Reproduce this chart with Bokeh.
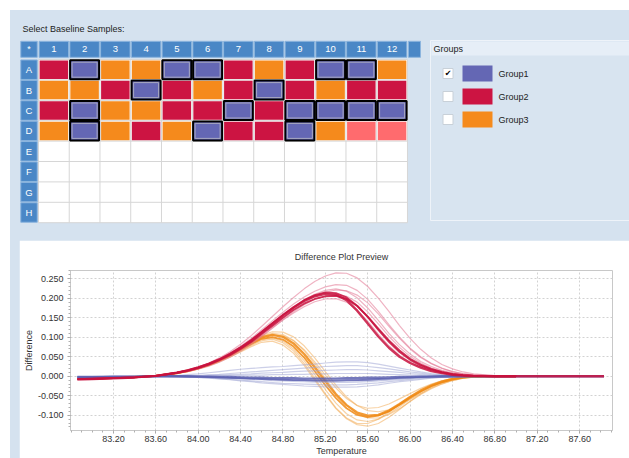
from bokeh.plotting import figure
from bokeh.models import Range1d, FixedTicker, PrintfTickFormatter, Spacer
from bokeh.layouts import column, row
from bokeh.embed import file_html
from bokeh.resources import INLINE
from bokeh.core.properties import value

# ---------------- data ----------------
col_labels = ["1", "2", "3", "4", "5", "6", "7", "8", "9", "10", "11", "12"]
row_labels = ["A", "B", "C", "D", "E", "F", "G", "H"]
# well codes: 1 = Group1, 2 = Group2, 3 = Group3, 4 = unassigned (light red)
plate_A = [2, 1, 3, 3, 1, 1, 2, 3, 2, 1, 1, 3]
plate_B = [3, 3, 2, 1, 2, 3, 2, 1, 2, 3, 2, 2]
plate_C = [2, 1, 3, 3, 2, 2, 1, 2, 1, 1, 1, 1]
plate_D = [3, 1, 3, 2, 3, 1, 2, 2, 1, 3, 4, 4]
baseline_code = 1

group_names = ["Group1", "Group2", "Group3"]
group_colors = ["#6467b4", "#cc1442", "#f58a1c"]
group_checked = [True, False, False]
extra_color = "#ff6b6e"

temperature = [82.86, 83.0, 83.2, 83.4, 83.6,
               83.8, 83.9, 84.0, 84.1, 84.2, 84.3, 84.4, 84.5, 84.6, 84.7,
               84.8, 84.9, 85.0, 85.1, 85.2, 85.3, 85.4, 85.5, 85.6, 85.7,
               85.8, 85.9, 86.0, 86.1, 86.2, 86.3, 86.4, 86.5, 86.6,
               86.8, 87.0, 87.83]

red_curves = [
    [-0.008, -0.007, -0.005, -0.003, 0.001,
     0.009, 0.015, 0.023, 0.032, 0.043, 0.057, 0.073, 0.091, 0.112, 0.134,
     0.156, 0.176, 0.193, 0.205, 0.211, 0.209, 0.195, 0.168, 0.135, 0.102,
     0.073, 0.050, 0.034, 0.022, 0.013, 0.008, 0.004, 0.002, 0.001,
     0.000, 0.000, 0.000],
    [-0.008, -0.007, -0.005, -0.003, 0.001,
     0.009, 0.014, 0.021, 0.030, 0.041, 0.054, 0.070, 0.088, 0.108, 0.129,
     0.150, 0.170, 0.186, 0.198, 0.205, 0.206, 0.198, 0.180, 0.153, 0.122,
     0.092, 0.066, 0.045, 0.030, 0.019, 0.011, 0.006, 0.003, 0.001,
     0.000, 0.000],
    [-0.007, -0.006, -0.005, -0.003, 0.001,
     0.009, 0.015, 0.022, 0.032, 0.043, 0.057, 0.074, 0.093, 0.114, 0.136,
     0.157, 0.176, 0.195, 0.208, 0.215, 0.213, 0.202, 0.181, 0.152, 0.119,
     0.088, 0.062, 0.042, 0.027, 0.017, 0.010, 0.005, 0.002, 0.001,
     0.000, 0.000],
    [-0.008, -0.007, -0.005, -0.003, 0.001,
     0.010, 0.016, 0.024, 0.034, 0.047, 0.063, 0.082, 0.104, 0.128, 0.153,
     0.178, 0.202, 0.224, 0.243, 0.257, 0.265, 0.264, 0.252, 0.230, 0.200,
     0.166, 0.130, 0.097, 0.069, 0.047, 0.030, 0.019, 0.011, 0.006,
     0.002, 0.000],
    [-0.008, -0.007, -0.005, -0.003, 0.001,
     0.010, 0.015, 0.023, 0.033, 0.045, 0.060, 0.077, 0.097, 0.119, 0.142,
     0.164, 0.185, 0.203, 0.218, 0.229, 0.235, 0.233, 0.220, 0.197, 0.166,
     0.132, 0.100, 0.072, 0.050, 0.033, 0.021, 0.012, 0.007, 0.003,
     0.001, 0.000],
    [-0.008, -0.007, -0.005, -0.003, 0.001,
     0.010, 0.015, 0.022, 0.032, 0.044, 0.058, 0.075, 0.094, 0.115, 0.137,
     0.159, 0.179, 0.196, 0.210, 0.220, 0.224, 0.218, 0.201, 0.175, 0.143,
     0.110, 0.081, 0.057, 0.038, 0.025, 0.015, 0.009, 0.005, 0.002,
     0.000, 0.000],
    [-0.007, -0.006, -0.005, -0.003, 0.001,
     0.009, 0.013, 0.020, 0.029, 0.040, 0.052, 0.068, 0.085, 0.104, 0.124,
     0.144, 0.162, 0.178, 0.191, 0.198, 0.199, 0.190, 0.170, 0.141, 0.108,
     0.078, 0.054, 0.036, 0.023, 0.014, 0.008, 0.004, 0.002, 0.001,
     0.000, 0.000],
    [-0.008, -0.007, -0.005, -0.003, 0.001,
     0.009, 0.014, 0.021, 0.030, 0.041, 0.055, 0.071, 0.090, 0.110, 0.131,
     0.152, 0.172, 0.189, 0.204, 0.215, 0.221, 0.219, 0.208, 0.188, 0.160,
     0.128, 0.097, 0.070, 0.048, 0.032, 0.020, 0.012, 0.006, 0.003,
     0.001, 0.000],
    [-0.008, -0.007, -0.005, -0.003, 0.001,
     0.008, 0.012, 0.018, 0.026, 0.036, 0.049, 0.064, 0.082, 0.102, 0.123,
     0.145, 0.165, 0.183, 0.197, 0.206, 0.210, 0.205, 0.190, 0.165, 0.134,
     0.102, 0.074, 0.051, 0.034, 0.021, 0.013, 0.007, 0.004, 0.002,
     0.000, 0.000],
]

orange_curves = [
    [-0.006, -0.005, -0.004, -0.002, 0.001,
     0.008, 0.014, 0.021, 0.030, 0.041, 0.055, 0.070, 0.086, 0.100, 0.106,
     0.101, 0.084, 0.057, 0.023, -0.013, -0.047, -0.074, -0.093, -0.101, -0.099,
     -0.088, -0.071, -0.053, -0.037, -0.024, -0.014, -0.007, -0.003, -0.001,
     0.000, 0.000],
    [-0.006, -0.005, -0.004, -0.002, 0.001,
     0.008, 0.013, 0.020, 0.029, 0.040, 0.053, 0.068, 0.083, 0.096, 0.100,
     0.094, 0.076, 0.048, 0.013, -0.023, -0.056, -0.082, -0.099, -0.105, -0.101,
     -0.090, -0.073, -0.055, -0.039, -0.025, -0.015, -0.008, -0.003, -0.001,
     0.000, 0.000],
    [-0.006, -0.005, -0.004, -0.002, 0.001,
     0.009, 0.014, 0.021, 0.031, 0.043, 0.057, 0.073, 0.090, 0.105, 0.114,
     0.113, 0.101, 0.078, 0.047, 0.012, -0.023, -0.053, -0.075, -0.088, -0.091,
     -0.086, -0.074, -0.059, -0.044, -0.030, -0.019, -0.011, -0.005, -0.002,
     0.000, 0.000],
    [-0.006, -0.005, -0.004, -0.002, 0.001,
     0.008, 0.012, 0.019, 0.027, 0.037, 0.049, 0.062, 0.076, 0.087, 0.090,
     0.080, 0.059, 0.028, -0.010, -0.048, -0.083, -0.109, -0.124, -0.128, -0.121,
     -0.105, -0.085, -0.064, -0.045, -0.029, -0.017, -0.009, -0.004, -0.001,
     0.000, 0.000],
    [-0.006, -0.005, -0.004, -0.002, 0.001,
     0.008, 0.013, 0.020, 0.028, 0.039, 0.052, 0.066, 0.081, 0.094, 0.098,
     0.090, 0.070, 0.040, 0.004, -0.034, -0.069, -0.096, -0.112, -0.116, -0.110,
     -0.096, -0.078, -0.059, -0.041, -0.027, -0.016, -0.008, -0.003, -0.001,
     0.000, 0.000],
    [-0.006, -0.005, -0.004, -0.002, 0.001,
     0.008, 0.013, 0.020, 0.029, 0.041, 0.054, 0.069, 0.085, 0.099, 0.106,
     0.104, 0.091, 0.068, 0.037, 0.003, -0.030, -0.057, -0.075, -0.082, -0.080,
     -0.071, -0.058, -0.044, -0.031, -0.020, -0.012, -0.006, -0.002, -0.001,
     0.000, 0.000],
    [-0.006, -0.005, -0.004, -0.002, 0.001,
     0.009, 0.014, 0.021, 0.030, 0.042, 0.056, 0.071, 0.088, 0.103, 0.110,
     0.107, 0.092, 0.066, 0.032, -0.006, -0.043, -0.074, -0.096, -0.107, -0.107,
     -0.098, -0.083, -0.065, -0.047, -0.032, -0.020, -0.011, -0.005, -0.002,
     0.000, 0.000],
    [-0.006, -0.005, -0.004, -0.002, 0.001,
     0.008, 0.012, 0.019, 0.027, 0.038, 0.050, 0.064, 0.079, 0.091, 0.095,
     0.086, 0.065, 0.033, -0.005, -0.045, -0.081, -0.107, -0.121, -0.121, -0.110,
     -0.092, -0.071, -0.051, -0.034, -0.021, -0.012, -0.006, -0.002, -0.001,
     0.000, 0.000],
]

blue_curves = [
    [-0.002, -0.002, -0.001, -0.001, 0.000,
     0.000, 0.000, -0.001, -0.001, -0.002, -0.002, -0.003, -0.004, -0.004, -0.005,
     -0.005, -0.005, -0.006, -0.006, -0.006, -0.006, -0.005, -0.005, -0.004, -0.004,
     -0.003, -0.002, -0.002, -0.001, -0.001, 0.000, 0.000, 0.000, 0.000,
     0.000, 0.000, 0.000],
    [-0.002, -0.002, -0.001, -0.001, 0.000,
     0.000, -0.001, -0.001, -0.002, -0.003, -0.004, -0.005, -0.006, -0.007, -0.008,
     -0.009, -0.010, -0.010, -0.011, -0.011, -0.011, -0.010, -0.010, -0.009, -0.007,
     -0.006, -0.004, -0.003, -0.002, -0.001, -0.001, 0.000, 0.000, 0.000,
     0.000, 0.000],
    [-0.002, -0.002, -0.001, -0.001, 0.000,
     0.002, 0.004, 0.006, 0.009, 0.012, 0.015, 0.018, 0.020, 0.022, 0.024,
     0.025, 0.027, 0.029, 0.031, 0.034, 0.036, 0.037, 0.037, 0.035, 0.031,
     0.026, 0.021, 0.016, 0.011, 0.007, 0.004, 0.002, 0.001, 0.000,
     0.000, 0.000],
    [-0.002, -0.002, -0.001, -0.001, 0.000,
     0.001, 0.001, 0.002, 0.004, 0.005, 0.007, 0.009, 0.011, 0.013, 0.015,
     0.017, 0.019, 0.021, 0.023, 0.025, 0.026, 0.027, 0.027, 0.025, 0.022,
     0.019, 0.015, 0.011, 0.008, 0.005, 0.003, 0.001, 0.001, 0.000,
     0.000, 0.000],
    [-0.002, -0.002, -0.001, -0.001, 0.000,
     0.000, 0.001, 0.001, 0.002, 0.003, 0.004, 0.005, 0.006, 0.008, 0.009,
     0.010, 0.012, 0.013, 0.014, 0.015, 0.016, 0.017, 0.017, 0.016, 0.014,
     0.012, 0.010, 0.007, 0.005, 0.003, 0.002, 0.001, 0.000, 0.000,
     0.000, 0.000],
    [-0.002, -0.002, -0.001, -0.001, 0.000,
     0.000, 0.000, 0.000, 0.001, 0.001, 0.002, 0.002, 0.003, 0.003, 0.004,
     0.004, 0.005, 0.005, 0.006, 0.006, 0.007, 0.007, 0.007, 0.007, 0.006,
     0.005, 0.004, 0.003, 0.002, 0.001, 0.001, 0.000, 0.000, 0.000,
     0.000, 0.000],
    [-0.002, -0.002, -0.001, -0.001, 0.000,
     -0.001, -0.001, -0.002, -0.003, -0.004, -0.005, -0.007, -0.008, -0.009, -0.011,
     -0.012, -0.013, -0.014, -0.015, -0.016, -0.016, -0.016, -0.015, -0.014, -0.012,
     -0.010, -0.008, -0.006, -0.004, -0.003, -0.002, -0.001, 0.000, 0.000,
     0.000, 0.000],
    [-0.002, -0.002, -0.001, -0.001, 0.000,
     -0.001, -0.002, -0.003, -0.004, -0.006, -0.008, -0.010, -0.012, -0.014, -0.016,
     -0.018, -0.019, -0.020, -0.021, -0.022, -0.022, -0.022, -0.021, -0.019, -0.017,
     -0.014, -0.011, -0.008, -0.006, -0.004, -0.002, -0.001, -0.001, 0.000,
     0.000, 0.000],
    [-0.002, -0.002, -0.001, -0.001, 0.000,
     -0.001, -0.002, -0.003, -0.005, -0.007, -0.009, -0.012, -0.014, -0.017, -0.019,
     -0.021, -0.023, -0.025, -0.026, -0.027, -0.028, -0.028, -0.027, -0.025, -0.022,
     -0.018, -0.014, -0.011, -0.008, -0.005, -0.003, -0.002, -0.001, 0.000,
     0.000, 0.000],
    [-0.002, -0.002, -0.001, -0.001, 0.000,
     0.000, -0.001, -0.001, -0.002, -0.003, -0.004, -0.005, -0.006, -0.007, -0.008,
     -0.009, -0.010, -0.011, -0.012, -0.013, -0.013, -0.013, -0.012, -0.011, -0.010,
     -0.008, -0.006, -0.005, -0.003, -0.002, -0.001, -0.001, 0.000, 0.000,
     0.000, 0.000],
]

x_ticks = [83.2, 83.6, 84.0, 84.4, 84.8, 85.2, 85.6, 86.0, 86.4, 86.8, 87.2, 87.6]
y_ticks = [-0.1, -0.05, 0.0, 0.05, 0.1, 0.15, 0.2, 0.25]

# ---------------- style ----------------
FONT = "Liberation Sans"
BG = "#d5e2ef"
HEAD = "#4a87c6"
CW = 30.75   # px per plate column
RH = 20.4    # px per plate row


def XU(px):
    return (px - 22.6) / CW


def YU(py):
    return (py - 48.8) / RH


# ---------------- top panel: plate + groups ----------------
top = figure(width=619, height=216, x_range=Range1d(XU(10), XU(629)),
             y_range=Range1d(YU(226), YU(10)), output_backend="svg",
             toolbar_location=None, x_axis_location=None, y_axis_location=None,
             min_border=0)
top.grid.visible = False
top.outline_line_color = None
top.background_fill_color = BG
top.border_fill_color = BG

top.text(x=[XU(22)], y=[YU(28)], text=["Select Baseline Samples:"],
         text_font=value(FONT), text_font_size="9px", text_color="#222222",
         text_align="left", text_baseline="middle")

ncol = len(col_labels)
nrow = len(row_labels)
top.rect(x=[(ncol + 1) / 2], y=[(nrow + 1) / 2], width=ncol, height=nrow,
         fill_color="white", line_color=None)
top.segment(x0=[c + 0.5 for c in range(ncol + 1)], y0=[0.5] * (ncol + 1),
            x1=[c + 0.5 for c in range(ncol + 1)], y1=[nrow + 0.5] * (ncol + 1),
            line_color="#d6d6d6", line_width=1)
top.segment(x0=[0.5] * (nrow + 1), y0=[r + 0.5 for r in range(nrow + 1)],
            x1=[ncol + 0.5] * (nrow + 1), y1=[r + 0.5 for r in range(nrow + 1)],
            line_color="#d6d6d6", line_width=1)

cols = list(range(1, ncol + 1))
rows = list(range(1, nrow + 1))
hx = XU(28.5)
top.rect(x=cols, y=[0] * ncol, width=29.5 / CW, height=16 / RH,
         fill_color=HEAD, line_color="#8cb5de")
top.rect(x=[hx] * nrow, y=rows, width=16.5 / CW, height=19.5 / RH,
         fill_color=HEAD, line_color="#8cb5de")
top.rect(x=[hx, XU(414)], y=[0, 0], width=[16.5 / CW, 12 / CW], height=16 / RH,
         fill_color=HEAD, line_color="#8cb5de")
top.text(x=cols, y=[0] * ncol, text=col_labels, text_font=value(FONT),
         text_font_size="9.5px", text_color="white", text_align="center",
         text_baseline="middle")
top.text(x=[hx] * nrow, y=rows, text=row_labels, text_font=value(FONT),
         text_font_size="9.5px", text_color="white", text_align="center",
         text_baseline="middle")
top.text(x=[hx], y=[0], text=["*"], text_font=value(FONT),
         text_font_size="9px", text_color="white", text_align="center",
         text_baseline="middle")

code_color = {1: group_colors[0], 2: group_colors[1], 3: group_colors[2], 4: extra_color}
wx, wy, wc, sx, sy = [], [], [], [], []
for r, prow in enumerate([plate_A, plate_B, plate_C, plate_D], start=1):
    for c, code in enumerate(prow, start=1):
        wx.append(c)
        wy.append(r)
        wc.append(code_color[code])
        if code == baseline_code:
            sx.append(c)
            sy.append(r)
top.rect(x=wx, y=wy, width=28.5 / CW, height=18.5 / RH, fill_color=wc, line_color=None)
top.rect(x=sx, y=sy, width=29 / CW, height=19 / RH, fill_color=None,
         line_color="black", line_width=2)
top.rect(x=sx, y=sy, width=25 / CW, height=15 / RH, fill_color=None,
         line_color="#a8a8c0", line_width=1)

top.quad(left=[XU(430)], right=[XU(640)], top=[YU(40)], bottom=[YU(220)],
         fill_color="#d8e4f0", line_color="#eef3f9", line_width=1)
top.quad(left=[XU(431)], right=[XU(640)], top=[YU(41)], bottom=[YU(55)],
         fill_color="#e6eef7", line_color=None)
top.text(x=[XU(433)], y=[YU(48)], text=["Groups"], text_font=value(FONT),
         text_font_size="9px", text_color="#222222", text_align="left",
         text_baseline="middle")
gy = [YU(73 + 23 * i) for i in range(len(group_names))]
top.rect(x=[XU(447.5)] * len(group_names), y=gy, width=10 / CW, height=10 / RH,
         fill_color="white", line_color="#c8d0d8")
top.rect(x=[XU(477)] * len(group_names), y=gy, width=30 / CW, height=16 / RH,
         fill_color=group_colors, line_color=None)
top.text(x=[XU(498)] * len(group_names), y=gy, text=group_names,
         text_font=value(FONT), text_font_size="9px", text_color="#222222",
         text_align="left", text_baseline="middle")
chk = [g for g, ch in zip(gy, group_checked) if ch]
top.text(x=[XU(447.5)] * len(chk), y=chk, text=["\u2714"] * len(chk),
         text_font=value("DejaVu Sans"), text_font_size="8px", text_color="black",
         text_align="center", text_baseline="middle")

# ---------------- bottom panel: difference plot ----------------
p = figure(width=610, height=218, x_range=Range1d(82.795, 87.91),
           y_range=Range1d(-0.139, 0.271), output_backend="svg",
           toolbar_location=None, min_border_left=51, min_border_right=17,
           min_border_top=30, min_border_bottom=28)
p.title.text = "Difference Plot Preview"
p.title.align = "center"
p.title.text_font = FONT
p.title.text_font_size = "9px"
p.title.text_font_style = "normal"
p.title.text_color = "#333333"
p.title.standoff = 18
p.border_fill_color = "white"
p.background_fill_color = "white"
p.outline_line_color = "#c8c8c8"

p.xaxis.ticker = FixedTicker(ticks=x_ticks,
                             minor_ticks=[round(82.8 + 0.1 * i, 2) for i in range(52)])
p.yaxis.ticker = FixedTicker(ticks=y_ticks,
                             minor_ticks=[round(-0.13 + 0.01 * i, 3) for i in range(41)])
p.xaxis.formatter = PrintfTickFormatter(format="%.2f")
p.yaxis.formatter = PrintfTickFormatter(format="%.3f")
p.xaxis.axis_label = "Temperature"
p.yaxis.axis_label = "Difference"
for ax in (p.xaxis, p.yaxis):
    ax.axis_label_text_font = FONT
    ax.axis_label_text_font_size = "9px"
    ax.axis_label_text_font_style = "normal"
    ax.axis_label_text_color = "#333333"
    ax.axis_label_standoff = 1
    ax.major_label_text_font = FONT
    ax.major_label_text_font_size = "9px"
    ax.major_label_text_color = "#333333"
    ax.major_label_standoff = 3
    ax.axis_line_color = "#c8c8c8"
    ax.major_tick_line_color = "#a0a0a0"
    ax.minor_tick_line_color = "#b0b0b0"
    ax.major_tick_in = 0
    ax.major_tick_out = 3
    ax.minor_tick_in = 0
    ax.minor_tick_out = 2
p.yaxis.major_label_standoff = 4
p.xaxis.major_label_standoff = 2
p.xgrid.ticker = x_ticks
p.ygrid.ticker = y_ticks
p.grid.grid_line_color = "#d2d2d2"
p.grid.grid_line_dash = "2 2"


def draw(curves, main_color, light_color, n_main):
    for vals in curves[n_main:]:
        p.line(temperature[:len(vals)], vals, line_color=light_color,
               line_width=1.2, line_alpha=0.55, line_join="round")
    for k, vals in enumerate(curves[:n_main]):
        p.line(temperature[:len(vals)], vals, line_color=main_color,
               line_width=2.4 if k == 0 else 1.8, line_alpha=0.85,
               line_join="round")


draw(orange_curves, "#f08a14", "#f3ad5a", 2)
draw(blue_curves, "#5d61b2", "#a3a8d6", 2)
draw(red_curves, "#c8123e", "#e27592", 3)

inner = column(top, Spacer(width=619, height=14),
               row(Spacer(width=9, height=218), p),
               styles={"background-color": BG})
layout = column(Spacer(width=629, height=10),
                row(Spacer(width=10, height=448), inner))
open("out.html", "w").write(file_html(layout, INLINE))
